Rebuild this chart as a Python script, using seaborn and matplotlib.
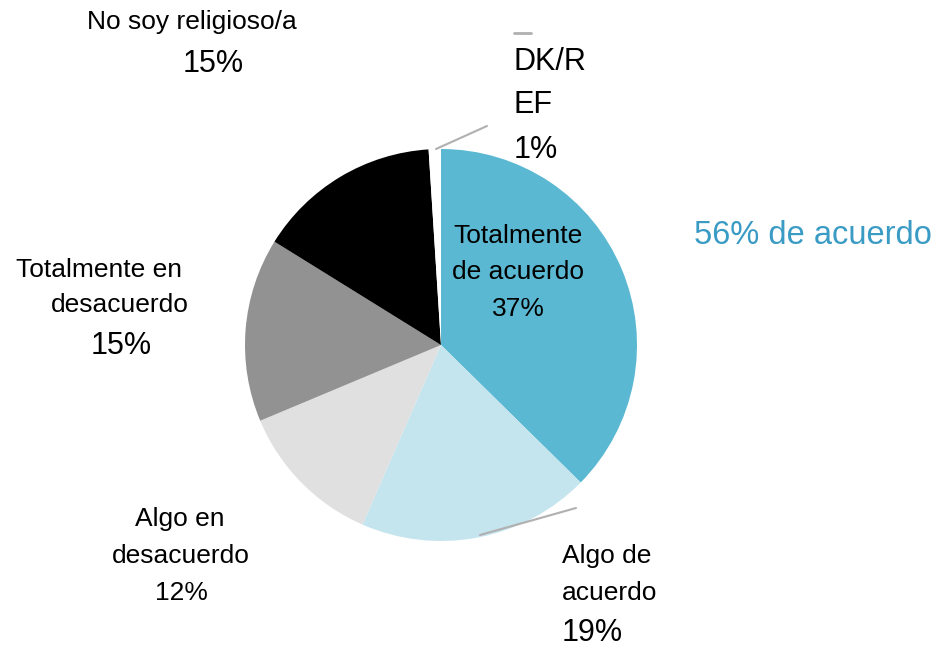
import matplotlib
matplotlib.use("Agg")
import matplotlib.pyplot as plt
import seaborn as sns

sns.set_style("white")
plt.rcParams['font.family'] = ['Liberation Sans', 'DejaVu Sans']
plt.rcParams['text.color'] = 'black'

# slices, clockwise from the top
categories = ["Totalmente de acuerdo", "Algo de acuerdo", "Algo en desacuerdo",
              "Totalmente en desacuerdo", "No soy religioso/a", "DK/R EF"]
values = [37, 19, 12, 15, 15, 1]
colors = ["#5bb8d2", "#c5e5ee", "#e0e0e0", "#929292", "#000000", "#ffffff"]
total_agree = "56% de acuerdo"

fig = plt.figure(figsize=(9.39, 6.47), dpi=100)
ax = fig.add_axes([0, 0, 1, 1])

# y axis runs downward, so counterclock here is clockwise on screen
ax.pie(values, colors=colors, center=(441, 345), radius=196,
       startangle=-90, counterclock=True,
       wedgeprops=dict(linewidth=0), frame=True)
ax.set_xlim(0, 939)
ax.set_ylim(647, 0)
ax.set_aspect("equal")
ax.axis("off")

lbl = 19
pct = 22
gray = "#b0b0b0"

# labels
ax.text(192, 22, "No soy religioso/a", fontsize=lbl, ha="center", va="center")
ax.text(213, 64, f"{values[4]}%", fontsize=pct, ha="center", va="center")

ax.text(514, 62, "DK/R", fontsize=pct, ha="left", va="center")
ax.text(514, 105, "EF", fontsize=pct, ha="left", va="center")
ax.text(514, 150, f"{values[5]}%", fontsize=pct, ha="left", va="center")
ax.plot([514, 531], [33, 33], color=gray, lw=2)
ax.plot([436, 487], [149, 126], color=gray, lw=1.5)

ax.text(518, 236, "Totalmente", fontsize=lbl, ha="center", va="center")
ax.text(518, 272, "de acuerdo", fontsize=lbl, ha="center", va="center")
ax.text(518, 309, f"{values[0]}%", fontsize=lbl, ha="center", va="center")

ax.text(694, 236, total_agree, fontsize=23.5, color="#3a9bc4", ha="left", va="center")

ax.text(99, 270, "Totalmente en", fontsize=lbl, ha="center", va="center")
ax.text(120, 305, "desacuerdo", fontsize=lbl, ha="center", va="center")
ax.text(121, 346, f"{values[3]}%", fontsize=pct, ha="center", va="center")

ax.text(180, 519, "Algo en", fontsize=lbl, ha="center", va="center")
ax.text(181, 556, "desacuerdo", fontsize=lbl, ha="center", va="center")
ax.text(181, 593, f"{values[2]}%", fontsize=lbl, ha="center", va="center")

ax.text(562, 556, "Algo de", fontsize=lbl, ha="left", va="center")
ax.text(562, 593, "acuerdo", fontsize=lbl, ha="left", va="center")
ax.text(562, 633, f"{values[1]}%", fontsize=pct, ha="left", va="center")
ax.plot([480, 576], [535, 508], color=gray, lw=1.5)

fig.savefig("out.png", dpi=100)
